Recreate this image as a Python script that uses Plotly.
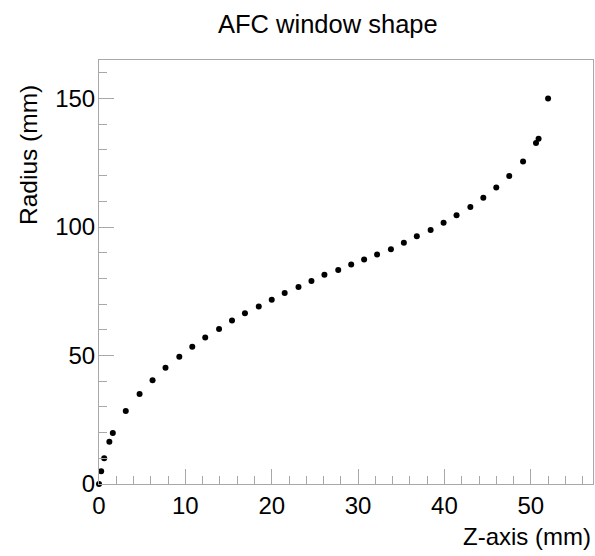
import plotly.graph_objects as go

z_mm = [0.0, 0.25, 0.6, 1.2, 1.6, 3.1, 4.7, 6.2, 7.7, 9.3, 10.8, 12.3, 13.9, 15.4,
        16.9, 18.5, 20.0, 21.5, 23.1, 24.6, 26.1, 27.7, 29.2, 30.7, 32.2, 33.8,
        35.3, 36.8, 38.4, 39.9, 41.4, 43.0, 44.5, 46.0, 47.5, 49.1, 50.6, 50.9, 52.0]
radius_mm = [0.0, 5.0, 10.0, 16.4, 19.8, 28.4, 35.0, 40.4, 45.2, 49.5, 53.4, 57.0,
             60.3, 63.6, 66.4, 69.1, 71.7, 74.3, 76.7, 79.0, 81.4, 83.3, 85.4, 87.4,
             89.3, 91.4, 93.9, 96.4, 98.8, 101.7, 104.6, 107.8, 111.4, 115.4, 119.9,
             125.5, 132.7, 134.4, 150.0]

title_text = "AFC window shape"
x_title = "Z-axis (mm)"
y_title = "Radius (mm)"

FONT = "Liberation Sans, Arial, Helvetica, sans-serif"
AXC = "#a8a8a8"

fig = go.Figure()
fig.add_trace(go.Scatter(x=z_mm, y=radius_mm, mode="markers",
                         marker=dict(color="black", size=6),
                         cliponaxis=False, showlegend=False, hoverinfo="skip"))

W, H = 595, 556
L, R, T, B = 99, 2, 60, 72
PW, PH = W - L - R, H - T - B


def px(xp):
    return (xp - L) / PW


def py(yp):
    return 1 - (yp - T) / PH


fig.update_layout(
    width=W, height=H,
    margin=dict(l=L, r=R, t=T, b=B, autoexpand=False),
    paper_bgcolor="white", plot_bgcolor="white",
    font=dict(family=FONT, color="black", size=24),
    xaxis=dict(range=[0, 57.2], showgrid=False, zeroline=False, automargin=False,
               showline=True, mirror=True, linecolor=AXC, linewidth=1,
               ticks="inside", ticklen=15, tickcolor=AXC, dtick=10, tick0=0,
               tickfont=dict(size=24),
               minor=dict(ticks="inside", ticklen=8, tickcolor=AXC, dtick=2, showgrid=False)),
    yaxis=dict(range=[0, 165], showgrid=False, zeroline=False, automargin=False,
               showline=True, mirror=True, linecolor=AXC, linewidth=1,
               ticks="inside", ticklen=15, tickcolor=AXC, dtick=50, tick0=0,
               tickfont=dict(size=24), ticklabelstandoff=-2,
               minor=dict(ticks="inside", ticklen=8, tickcolor=AXC, dtick=10, showgrid=False)),
    annotations=[
        dict(text=title_text, xref="paper", yref="paper",
             x=px(328), y=py(24),
             xanchor="center", yanchor="middle", showarrow=False,
             font=dict(size=25.5)),
        dict(text=x_title, xref="paper", yref="paper",
             x=px(593), y=py(536),
             xanchor="right", yanchor="middle", showarrow=False,
             font=dict(size=24)),
        dict(text=y_title, xref="paper", yref="paper",
             x=px(28), y=py(155),
             xanchor="center", yanchor="middle", textangle=-90, showarrow=False,
             font=dict(size=24.5)),
    ],
)

fig.write_html("out.html", config={"displayModeBar": False},
               post_script="document.body.style.margin='0';document.body.style.padding='0';")
